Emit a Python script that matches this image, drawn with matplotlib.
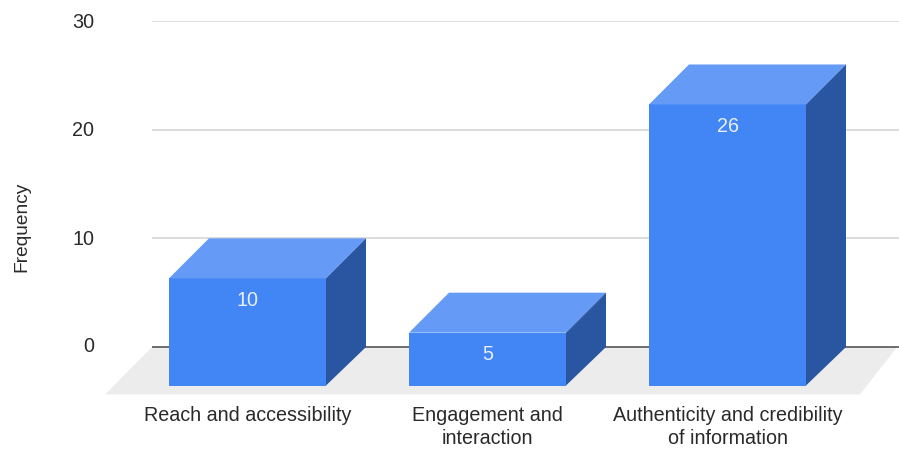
import matplotlib
matplotlib.use('Agg')
import matplotlib.pyplot as plt
from matplotlib.patches import Polygon

plt.rcParams['font.family'] = ['Liberation Sans', 'DejaVu Sans']

labels = ['Reach and accessibility', 'Engagement and\ninteraction', 'Authenticity and credibility\nof information']
values = [10, 5, 26]
yticks = [0, 10, 20, 30]

W, H = 899, 449
fig = plt.figure(figsize=(W / 100, H / 100), dpi=100)
left, right, top, bottom = 152, 899, 21, 394.5
ax = fig.add_axes([left / W, 1 - bottom / H, (right - left) / W, (bottom - top) / H])

px_y = 30 / (347 - 21)
px_x = 1 / 240
ax.set_xlim((left - 247.5) * px_x, (right - 247.5) * px_x)
ax.set_ylim(-(bottom - 347) * px_y, 30)

# depth of the fake 3d, front face is pushed down-left of the back plane
dx = 40 * px_x
dy = 40 * px_y
dy_base = 38.5 * px_y
bw = 157 * px_x
fs = 14.2
txt = '#2a2a2a'

for s in ax.spines.values():
    s.set_visible(False)
ax.set_xticks([])
ax.set_yticks([])
ax.patch.set_alpha(0)

# floor
x0, x1 = ax.get_xlim()
ymin = ax.get_ylim()[0]
ax.add_patch(Polygon([(x0 - 47 * px_x, ymin), (x0, 0), (x1 - 2 * px_x, 0), (x1 - 39 * px_x, ymin)],
                     closed=True, fc='#ececec', ec='none', clip_on=False, zorder=1))

for t in yticks:
    ax.plot([x0, x1], [t, t], color='#555555' if t == 0 else '#d6d6d6', lw=1.2, zorder=2)
    # the zero label sits a bit higher than the others
    off = 0 if t == 0 else -1
    ax.text(x0 - 58 * px_x, t + off * px_y, str(t), ha='right', va='center', fontsize=fs, color=txt)

for i, v in enumerate(values):
    xl = i - bw / 2
    xr = i + bw / 2
    y0 = -dy_base
    yf = v - dy
    # front
    ax.add_patch(Polygon([(xl, y0), (xr, y0), (xr, yf), (xl, yf)], fc='#4285f4', ec='none', zorder=3))
    # top
    ax.add_patch(Polygon([(xl, yf), (xr, yf), (xr + dx, v), (xl + dx, v)], fc='#659bf6', ec='none', zorder=3))
    # side
    ax.add_patch(Polygon([(xr, y0), (xr + dx, 0), (xr + dx, v), (xr, yf)], fc='#2a55a0', ec='none', zorder=3))
    ax.text(i, yf - 22 * px_y, str(v), ha='center', va='center', color='#e8f0fe', fontsize=fs, zorder=4)
    ax.text(i, ymin - 11.5 * px_y, labels[i], ha='center', va='top', fontsize=fs, color=txt,
            linespacing=1.3, clip_on=False)

fig.text(21.5 / W, 1 - 227 / H, 'Frequency', rotation=90, ha='center', va='center', fontsize=13.8, color=txt)

fig.savefig('out.png', dpi=100)
